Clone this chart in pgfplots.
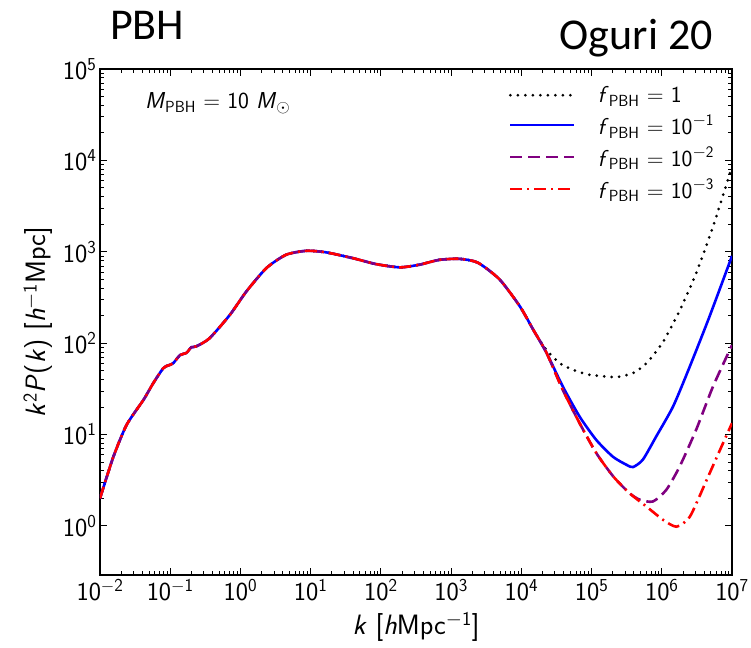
\documentclass[border=0pt]{standalone}
\usepackage{fontspec}
\usepackage{pgfplots}
\pgfplotsset{compat=1.18}
\newfontfamily\carlito{Carlito}
\newcommand{\tl}[1]{10\textsuperscript{#1}}
\newcommand{\fpbh}{\textit{f}\textsubscript{PBH}}
\begin{document}
\begin{tikzpicture}[x=1pt,y=1pt]
\path[use as bounding box] (0,0) rectangle (751,647);
\node[anchor=base west,font=\carlito\fontsize{44}{50}\selectfont,inner sep=0pt] at (110,607) {PBH};
\node[anchor=base east,font=\carlito\fontsize{44}{50}\selectfont,inner sep=0pt] at (713,597) {Oguri 20};
\begin{axis}[
  at={(100pt,72pt)}, anchor=south west,
  width=632pt, height=506pt, scale only axis,
  xmode=log, ymode=log,
  xmin=1e-2, xmax=1e7, ymin=0.29, ymax=1e5,
  xtick={1e-2,1e-1,1,10,100,1000,1e4,1e5,1e6,1e7},
  xticklabels={\tl{$-$2},\tl{$-$1},\tl{0},\tl{1},\tl{2},\tl{3},\tl{4},\tl{5},\tl{6},\tl{7}},
  ytick={1,10,100,1000,1e4,1e5},
  yticklabels={\tl{0},\tl{1},\tl{2},\tl{3},\tl{4},\tl{5}},
  tick label style={font=\sffamily\fontsize{26}{29}\selectfont},
  xticklabel style={yshift=-1pt},
  tick align=inside, xtick pos=both, ytick pos=both,
  major tick length=7pt, minor tick length=4pt,
  every tick/.style={black, line width=0.8pt},
  axis line style={line width=1.2pt},
  xlabel={\textit{k} [\textit{h}Mpc\textsuperscript{$-$1}]},
  ylabel={\textit{k}\textsuperscript{2}\textit{P}(\textit{k}) [\textit{h}\textsuperscript{$-$1}Mpc]},
  label style={font=\sffamily\fontsize{28}{32}\selectfont},
  xlabel style={at={(axis description cs:0.5,-0.102)},anchor=center},
  ylabel style={at={(axis description cs:-0.098,0.5)},anchor=center},
  legend image code/.code={\draw[#1] (0pt,0pt) -- (64pt,0pt);},
  legend style={at={(axis description cs:0.975,0.97)}, anchor=north east, draw=none, fill=none,
    font=\sffamily\fontsize{23}{26}\selectfont, row sep=6.5pt, inner sep=0pt,
    /tikz/every odd column/.append style={column sep=20pt}},
  legend cell align=left,
]
\addplot[black, line width=3pt, line cap=round, dash pattern=on 0pt off 7.5pt, smooth, tension=0.4] coordinates {
(0.01,2.0) (0.0155,5.7) (0.024,12.8) (0.0417,24) (0.0575,36.6) (0.0794,53) (0.0933,57) (0.1096,60) (0.138,74) (0.170,78) (0.1995,90) (0.2344,92) (0.363,113) (0.708,204) (1.216,368) (2.344,663) (4.467,927) (8.71,1024) (16.6,985) (39.8,851) (85.1,733) (186,675) (355,722) (676,815) (1318,836) (2399,760) (4898,498) (9550,252) (14790,140) (22900,84) (35500,60) (54400,51) (93300,45) (2.24e5,42.5) (3.89e5,47) (6.03e5,60) (1.05e6,104) (1.82e6,232) (3.09e6,584) (5.37e6,1890) (1e7,8500)};
\addlegendentry{\fpbh\ = 1}
\addplot[blue, line width=2.6pt, smooth, tension=0.4] coordinates {
(0.01,2.0) (0.0155,5.7) (0.024,12.8) (0.0417,24) (0.0575,36.6) (0.0794,53) (0.0933,57) (0.1096,60) (0.138,74) (0.170,78) (0.1995,90) (0.2344,92) (0.363,113) (0.708,204) (1.216,368) (2.344,663) (4.467,927) (8.71,1024) (16.6,985) (39.8,851) (85.1,733) (186,675) (355,722) (676,815) (1318,836) (2399,760) (4898,498) (9550,252) (14790,140) (22900,78) (38900,33.6) (67600,15.7) (1.17e5,8.7) (2.02e5,5.7) (3.16e5,4.65) (3.89e5,4.4) (5.37e5,5.3) (8.32e5,9.5) (1.45e6,20.3) (2.51e6,55.6) (4.79e6,196) (1e7,900)};
\addlegendentry{\fpbh\ = \tl{$-$1}}
\addplot[color={rgb,255:red,128;green,0;blue,128}, line width=2.6pt, dash pattern=on 12pt off 6pt, smooth, tension=0.4] coordinates {
(0.01,2.0) (0.0155,5.7) (0.024,12.8) (0.0417,24) (0.0575,36.6) (0.0794,53) (0.0933,57) (0.1096,60) (0.138,74) (0.170,78) (0.1995,90) (0.2344,92) (0.363,113) (0.708,204) (1.216,368) (2.344,663) (4.467,927) (8.71,1024) (16.6,985) (39.8,851) (85.1,733) (186,675) (355,722) (676,815) (1318,836) (2399,760) (4898,498) (9550,252) (14790,140) (22900,78) (38900,30.8) (67600,13.3) (1.17e5,6.25) (2.04e5,3.47) (3.47e5,2.28) (4.9e5,1.93) (7.5e5,1.85) (1.16e6,2.48) (1.8e6,4.47) (3.09e6,11.3) (5.37e6,33.6) (1e7,95)};
\addlegendentry{\fpbh\ = \tl{$-$2}}
\addplot[red, line width=2.6pt, dash pattern=on 12pt off 5pt on 2pt off 5pt, smooth, tension=0.4] coordinates {
(0.01,2.0) (0.0155,5.7) (0.024,12.8) (0.0417,24) (0.0575,36.6) (0.0794,53) (0.0933,57) (0.1096,60) (0.138,74) (0.170,78) (0.1995,90) (0.2344,92) (0.363,113) (0.708,204) (1.216,368) (2.344,663) (4.467,927) (8.71,1024) (16.6,985) (39.8,851) (85.1,733) (186,675) (355,722) (676,815) (1318,836) (2399,760) (4898,498) (9550,252) (14790,140) (22900,78) (38900,30.8) (67600,13.3) (1.17e5,6.25) (2.04e5,3.47) (3.47e5,2.28) (6.03e5,1.63) (1.05e6,1.16) (1.62e6,0.98) (2.51e6,1.26) (4.37e6,3.2) (6.76e6,6.8) (1e7,13.3)};
\addlegendentry{\fpbh\ = \tl{$-$3}}
\node[anchor=west, font=\sffamily\fontsize{23}{26}\selectfont, inner sep=0pt] at (axis description cs:0.071,0.933) {\textit{M}\textsubscript{PBH} = 10 \textit{M}\textsubscript{$\odot$}};
\end{axis}
\end{tikzpicture}
\end{document}
